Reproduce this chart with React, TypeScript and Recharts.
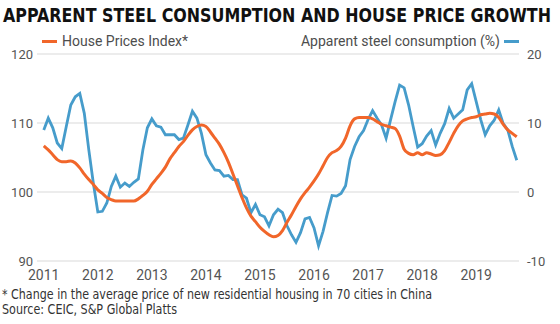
import { LineChart, Line, XAxis, YAxis, CartesianGrid } from 'recharts';

// monthly, Jan 2011 -> Oct 2019
const housePrices = [
  106.7, 106.1, 105.4, 104.7, 104.4, 104.4, 104.5, 104.2, 103.5, 102.6, 101.8, 101.1,
  100.3, 99.8, 99.2, 98.9, 98.7, 98.7, 98.7, 98.7, 98.7, 99.0, 99.5, 100.1,
  101.1, 101.9, 102.7, 103.6, 104.8, 105.7, 106.6, 107.3, 108.2, 109.0, 109.5, 109.7,
  109.5, 108.7, 107.8, 106.9, 105.7, 104.3, 102.6, 100.9, 99.2, 97.7, 96.5, 95.7,
  94.9, 94.3, 93.8, 93.5, 93.7, 94.4, 95.6, 96.7, 97.9, 99.0, 99.9, 100.7,
  101.6, 102.6, 103.8, 105.0, 105.7, 106.0, 106.6, 107.8, 109.6, 110.6, 110.8, 110.8,
  110.8, 110.6, 110.2, 109.8, 109.6, 109.4, 109.2, 108.1, 106.2, 105.6, 105.4, 105.7,
  105.4, 105.7, 105.5, 105.3, 105.4, 106.0, 107.2, 108.5, 109.6, 110.3, 110.6, 110.8,
  110.9, 111.2, 111.3, 111.4, 111.3, 110.8, 109.8, 109.0, 108.5, 108.0,
];

const steelConsumption = [
  9.0, 10.7, 9.3, 7.1, 6.3, 9.5, 12.6, 13.8, 14.3, 11.4, 6.1, 1.3,
  -2.9, -2.8, -1.6, 0.8, 2.3, 0.7, 1.3, 0.8, 1.4, 1.9, 6.1, 9.3,
  10.6, 9.6, 9.4, 8.3, 8.3, 8.3, 7.6, 7.8, 9.7, 11.7, 10.7, 8.5,
  5.4, 4.2, 3.2, 3.1, 2.3, 2.4, 1.8, 1.8, -0.4, -0.9, -3.0, -1.8,
  -3.3, -3.6, -4.9, -3.3, -2.5, -3.0, -4.9, -6.2, -7.3, -5.9, -3.9, -3.7,
  -5.2, -7.8, -5.7, -3.0, -0.5, -0.6, -0.2, 0.9, 4.7, 6.6, 8.0, 8.9,
  10.5, 11.8, 10.7, 9.7, 7.8, 10.5, 13.1, 15.5, 15.1, 12.6, 9.5, 6.5,
  7.0, 8.1, 8.9, 6.8, 8.5, 9.9, 12.1, 10.7, 11.3, 11.9, 14.8, 15.7,
  13.1, 10.5, 8.3, 9.6, 10.4, 11.9, 9.9, 9.0, 6.6, 4.6,
];

const years = ['2011', '2012', '2013', '2014', '2015', '2016', '2017', '2018', '2019'];
const leftTicks = [90, 100, 110, 120];
const rightTicks = [-10, 0, 10, 20];

const ORANGE = '#f1662a';
const BLUE = '#469ccb';
const TEXT = '#555';
const NARROW = "'Liberation Sans Narrow', 'DejaVu Sans Condensed', sans-serif";

const data = housePrices.map((v, i) => ({ i, house: v, steel: steelConsumption[i] }));
const xTicks = years.map((_, k) => k * 12);

const tickFont = { fontSize: 13, fill: TEXT, fontFamily: 'Roboto, sans-serif' };

const App = () => {
  return (
    <div style={{ position: 'absolute', left: 0, top: 0, width: 560, height: 324, background: '#fff' }}>
      <svg width={560} height={32} style={{ position: 'absolute', left: 0, top: 0 }}>
        <text
          x={0}
          y={0}
          transform="translate(3 22) scale(1 1.18)"
          textLength={548}
          lengthAdjust="spacingAndGlyphs"
          style={{ fontFamily: NARROW, fontWeight: 700, fontSize: 17, fill: '#111' }}
        >
          APPARENT STEEL CONSUMPTION AND HOUSE PRICE GROWTH
        </text>
      </svg>

      <div style={{ position: 'absolute', left: 42, top: 33, display: 'flex', alignItems: 'center', fontFamily: 'Roboto, sans-serif', fontSize: 14, color: '#4d4d4d' }}>
        <span style={{ display: 'inline-block', width: 15, height: 3, background: ORANGE, marginRight: 5 }} />
        House Prices Index*
      </div>
      <div style={{ position: 'absolute', right: 41, top: 33, display: 'flex', alignItems: 'center', fontFamily: 'Roboto, sans-serif', fontSize: 14, color: '#4d4d4d' }}>
        Apparent steel consumption (%)
        <span style={{ display: 'inline-block', width: 15, height: 3, background: BLUE, marginLeft: 4 }} />
      </div>

      <div style={{ position: 'absolute', left: 0, top: 0 }}>
        <LineChart width={560} height={324} data={data} margin={{ top: 54, right: 0, left: 0, bottom: 43 }}>
          <CartesianGrid yAxisId="left" horizontal vertical={false} stroke="#d9d9d9" />
          <XAxis
            dataKey="i"
            type="number"
            domain={[-1.5, 105.5]}
            ticks={xTicks}
            interval={0}
            tickFormatter={(v) => years[v / 12]}
            axisLine={false}
            tickLine={false}
            tickSize={0}
            tickMargin={9}
            height={20}
            tick={{ ...tickFont, fontSize: 14 }}
          />
          <YAxis
            yAxisId="left"
            domain={[90, 120]}
            ticks={leftTicks}
            interval={0}
            width={37}
            axisLine={false}
            tickLine={false}
            tickSize={0}
            tickMargin={4}
            tick={tickFont}
          />
          <YAxis
            yAxisId="right"
            orientation="right"
            domain={[-10, 20]}
            ticks={rightTicks}
            interval={0}
            width={41}
            axisLine={false}
            tickLine={false}
            tickSize={0}
            tickMargin={8}
            tick={tickFont}
          />
          <Line
            yAxisId="right"
            type="linear"
            dataKey="steel"
            stroke={BLUE}
            strokeWidth={2.8}
            dot={false}
            isAnimationActive={false}
          />
          <Line
            yAxisId="left"
            type="monotone"
            dataKey="house"
            stroke={ORANGE}
            strokeWidth={3}
            dot={false}
            isAnimationActive={false}
          />
        </LineChart>
      </div>

      <svg width={560} height={40} style={{ position: 'absolute', left: 0, top: 284 }}>
        <g style={{ fontFamily: NARROW, fontSize: 14, fill: '#333' }}>
          <text x={2} y={14.5} textLength={430} lengthAdjust="spacingAndGlyphs">
            * Change in the average price of new residential housing in 70 cities in China
          </text>
          <text x={2} y={29.5} textLength={175} lengthAdjust="spacingAndGlyphs">
            Source: CEIC, S&amp;P Global Platts
          </text>
        </g>
      </svg>
    </div>
  );
};

export default App;
